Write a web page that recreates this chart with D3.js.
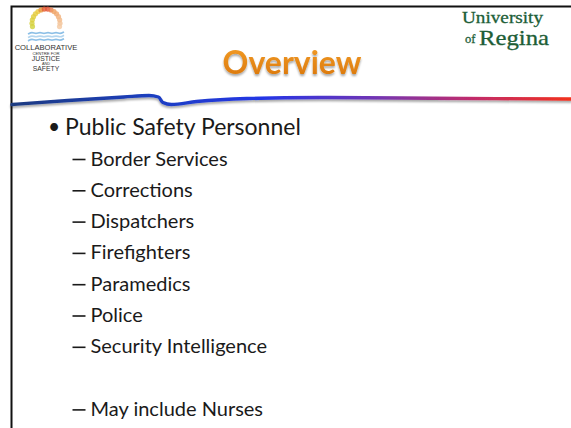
<!DOCTYPE html>
<html>
<head>
<meta charset="utf-8">
<script src="https://cdn.jsdelivr.net/npm/d3@7"></script>
<style>
  html, body { margin: 0; padding: 0; background: #fff; }
  svg { display: block; }
</style>
</head>
<body>
<div id="slide"></div>
<script>
// slide content
const title = 'Overview';
const bullets = ['Public Safety Personnel'];
const subItems = [
  'Border Services',
  'Corrections',
  'Dispatchers',
  'Firefighters',
  'Paramedics',
  'Police',
  'Security Intelligence',
  '',
  'May include Nurses',
];
const logoLines = ['COLLABORATIVE', 'CENTRE FOR', 'JUSTICE', 'AND', 'SAFETY'];
const uniLines = ['University', 'of', 'Regina'];

const style = {
  border: '#111',
  title: { top: '#f5a028', bottom: '#d8740a', size: 32 },
  text: { color: '#1a1a1a', main: 23, sub: 20 },
  uni: '#1d5e37',
  swoosh: ['#1b3a80', '#1d3fc0', '#2436e6', '#7236b4', '#c02c6c', '#f2301c'],
};

const width = 571;
const height = 428;

const svg = d3.select('#slide').append('svg')
  .attr('width', width)
  .attr('height', height);

const defs = svg.append('defs');

const titleGrad = defs.append('linearGradient')
  .attr('id', 'titleGrad')
  .attr('x1', 0).attr('y1', 0).attr('x2', 0).attr('y2', 1);
titleGrad.append('stop').attr('offset', '0%').attr('stop-color', style.title.top);
titleGrad.append('stop').attr('offset', '100%').attr('stop-color', style.title.bottom);

const swooshGrad = defs.append('linearGradient')
  .attr('id', 'swooshGrad')
  .attr('gradientUnits', 'userSpaceOnUse')
  .attr('x1', 12).attr('y1', 0).attr('x2', width).attr('y2', 0);
const stopPos = [0, 0.25, 0.45, 0.65, 0.82, 1];
style.swoosh.forEach((c, i) => {
  swooshGrad.append('stop').attr('offset', stopPos[i]).attr('stop-color', c);
});

const shadow = defs.append('filter')
  .attr('id', 'shadow')
  .attr('x', '-5%').attr('y', '-50%').attr('width', '110%').attr('height', '300%');
shadow.append('feDropShadow')
  .attr('dx', 0).attr('dy', 2).attr('stdDeviation', 1.2)
  .attr('flood-color', '#000').attr('flood-opacity', 0.35);

svg.append('rect')
  .attr('width', width)
  .attr('height', height)
  .attr('fill', '#fff');

// slide frame (top and left edges)
svg.append('path')
  .attr('d', `M${11.5},${height} L11.5,6.5 L${width},6.5`)
  .attr('fill', 'none')
  .attr('stroke', style.border)
  .attr('stroke-width', 2);

// swoosh under the header
const sx = d3.scaleLinear().domain([0, 1]).range([12, width]);
const swooshPts = [
  [0, 104.5], [0.1, 100.5], [0.2, 97], [0.245, 95.5], [0.262, 97], [0.27, 102.5],
  [0.285, 104.5], [0.33, 101.5], [0.42, 98.5], [0.55, 97.5], [0.75, 98.2], [1, 99],
];
const swooshLine = d3.line()
  .x((d) => sx(d[0]))
  .y((d) => d[1])
  .curve(d3.curveMonotoneX);
svg.append('path')
  .attr('d', swooshLine(swooshPts))
  .attr('fill', 'none')
  .attr('stroke', 'url(#swooshGrad)')
  .attr('stroke-width', 3.4)
  .attr('stroke-linecap', 'round')
  .attr('filter', 'url(#shadow)');

// title
svg.append('text')
  .attr('x', 292)
  .attr('y', 74)
  .attr('text-anchor', 'middle')
  .attr('font-family', 'Lato, "Open Sans", sans-serif')
  .attr('font-weight', 700)
  .attr('font-size', style.title.size)
  .attr('fill', 'url(#titleGrad)')
  .attr('filter', 'url(#shadow)')
  .text(title);

// list
const rowY = d3.scaleLinear().domain([0, 1]).range([165.5, 196.8]);
svg.append('g')
  .selectAll('g')
  .data(bullets)
  .join('g')
  .call((g) => {
    g.append('text')
      .attr('x', 48)
      .attr('y', 134)
      .attr('font-family', 'Lato, sans-serif')
      .attr('font-size', style.text.main - 2)
      .attr('fill', style.text.color)
      .text('\u2022');
    g.append('text')
      .attr('x', 65)
      .attr('y', 135)
      .attr('font-family', 'Lato, sans-serif')
      .attr('font-size', style.text.main)
      .attr('fill', style.text.color)
      .text((d) => d);
  });

const sub = svg.append('g')
  .selectAll('g')
  .data(subItems.map((d, i) => ({ label: d, i })).filter((d) => d.label))
  .join('g')
  .attr('transform', (d) => `translate(0, ${rowY(d.i)})`);
sub.append('rect')
  .attr('x', 72.5)
  .attr('y', -6.8)
  .attr('width', 13)
  .attr('height', 1.6)
  .attr('fill', style.text.color);
sub.append('text')
  .attr('x', 90.5)
  .attr('font-family', 'Lato, sans-serif')
  .attr('font-size', style.text.sub)
  .attr('fill', style.text.color)
  .text((d) => d.label);

// collaborative centre logo
const logo = svg.append('g').attr('transform', 'translate(46, 23)');
const dotAngle = d3.scaleLinear().domain([0, 15]).range([195, -15]);
const dotColor = d3.scaleLinear()
  .domain([0, 5, 7.5, 10, 15])
  .range(['#cfd23a', '#e8c93c', '#e2402c', '#efa060', '#f4c8a0']);
logo.selectAll('circle')
  .data(d3.range(16))
  .join('circle')
  .attr('cx', (d) => 14 * Math.cos(dotAngle(d) * Math.PI / 180))
  .attr('cy', (d) => -14 * Math.sin(dotAngle(d) * Math.PI / 180))
  .attr('r', 2.6)
  .attr('fill', (d) => dotColor(d))
  .attr('opacity', 0.8);
const wave = d3.line().curve(d3.curveBasis);
[0, 1, 2].forEach((k) => {
  const pts = d3.range(0, 10).map((j) => [-18 + j * 4, 10 + k * 3.4 + (j % 2 ? -1.1 : 1.1)]);
  logo.append('path')
    .attr('d', wave(pts))
    .attr('fill', 'none')
    .attr('stroke', k === 1 ? '#b4d6ef' : '#8cbfe6')
    .attr('stroke-width', 1.7);
});
const logoSizes = [7.6, 4.2, 6.8, 3.8, 6.8];
const logoY = [50, 55, 60.5, 64.5, 70.5];
svg.append('g')
  .selectAll('text')
  .data(logoLines)
  .join('text')
  .attr('x', 46)
  .attr('y', (d, i) => logoY[i])
  .attr('text-anchor', 'middle')
  .attr('font-family', '"Liberation Sans", Arial, sans-serif')
  .attr('font-size', (d, i) => logoSizes[i])
  .attr('fill', '#333')
  .text((d) => d);

// university of regina wordmark
const uni = svg.append('g')
  .attr('font-family', '"Liberation Serif", "Times New Roman", serif')
  .attr('fill', style.uni)
  .attr('stroke', style.uni)
  .attr('stroke-width', 0.3);
uni.append('text')
  .attr('x', 462).attr('y', 23)
  .attr('font-size', 17)
  .attr('textLength', 81)
  .attr('lengthAdjust', 'spacingAndGlyphs')
  .text(uniLines[0]);
uni.append('text')
  .attr('x', 465).attr('y', 43)
  .attr('font-size', 12.5)
  .text(uniLines[1]);
uni.append('text')
  .attr('x', 479).attr('y', 44.5)
  .attr('font-size', 21.5)
  .attr('textLength', 70)
  .attr('lengthAdjust', 'spacingAndGlyphs')
  .text(uniLines[2]);
</script>
</body>
</html>
